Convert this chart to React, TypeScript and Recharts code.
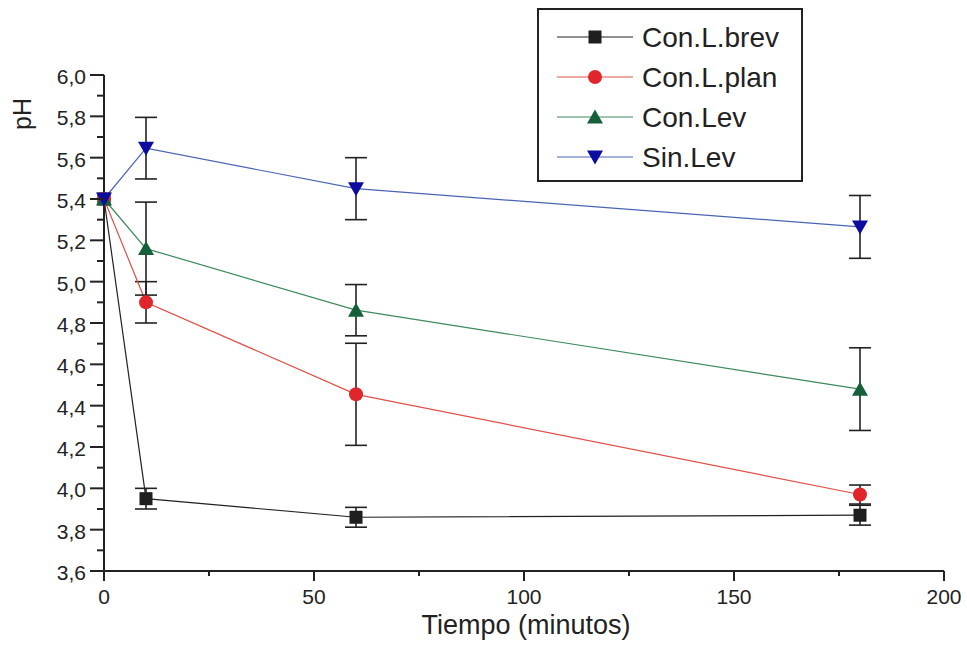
import { ComposedChart, Line, XAxis, YAxis, ErrorBar, Legend, Label } from 'recharts'

const tiempo = [0, 10, 60, 180]
const conLBrev = [5.4, 3.95, 3.86, 3.87]
const conLBrevErr = [null, 0.05, 0.048, 0.048]
const conLPlan = [5.4, 4.9, 4.455, 3.97]
const conLPlanErr = [null, 0.1, 0.247, 0.046]
const conLev = [5.4, 5.16, 4.862, 4.48]
const conLevErr = [null, 0.225, 0.124, 0.2]
const sinLev = [5.4, 5.646, 5.45, 5.265]
const sinLevErr = [null, 0.149, 0.15, 0.152]

const xTicks = [0, 25, 50, 75, 100, 125, 150, 175, 200]
const xMajor = [0, 50, 100, 150, 200]
const yTicks = [3.6, 3.7, 3.8, 3.9, 4.0, 4.1, 4.2, 4.3, 4.4, 4.5, 4.6, 4.7, 4.8, 4.9, 5.0, 5.1, 5.2, 5.3, 5.4, 5.5, 5.6, 5.7, 5.8, 5.9, 6.0]
const yMajor = [3.6, 3.8, 4.0, 4.2, 4.4, 4.6, 4.8, 5.0, 5.2, 5.4, 5.6, 5.8, 6.0]

const series = [
  { key: 'brev', name: 'Con.L.brev', line: '#222222', fill: '#1e1e1e', shape: 'square' },
  { key: 'plan', name: 'Con.L.plan', line: '#e05048', fill: '#e0262a', shape: 'circle' },
  { key: 'lev', name: 'Con.Lev', line: '#3c8a5c', fill: '#15603a', shape: 'up' },
  { key: 'sin', name: 'Sin.Lev', line: '#4a64b4', fill: '#0c0c9e', shape: 'down' },
]

const data = tiempo.map((t, i) => ({
  t,
  brev: conLBrev[i],
  brevErr: conLBrevErr[i],
  plan: conLPlan[i],
  planErr: conLPlanErr[i],
  lev: conLev[i],
  levErr: conLevErr[i],
  sin: sinLev[i],
  sinErr: sinLevErr[i],
}))

const font = '"Liberation Sans", Arial, sans-serif'

function Marker({ cx, cy, shape, fill }: any) {
  if (shape === 'square') return <rect x={cx - 6.5} y={cy - 6.5} width={13} height={13} fill={fill} />
  if (shape === 'circle') return <circle cx={cx} cy={cy} r={7} fill={fill} />
  if (shape === 'up') return <polygon points={`${cx - 8},${cy + 6.5} ${cx + 8},${cy + 6.5} ${cx},${cy - 7.5}`} fill={fill} />
  return <polygon points={`${cx - 8},${cy - 6.5} ${cx + 8},${cy - 6.5} ${cx},${cy + 7.5}`} fill={fill} />
}

function YTick({ x, y, payload }: any) {
  const major = yMajor.includes(payload.value)
  return (
    <g>
      <line x1={x - (major ? 14 : 7)} x2={x} y1={y} y2={y} stroke="#222" strokeWidth={2} />
      {major && (
        <text x={x - 18} y={y + 9} textAnchor="end" fontSize={21} fontFamily={font} fill="#222">
          {payload.value.toFixed(1).replace('.', ',')}
        </text>
      )}
    </g>
  )
}

function XTick({ x, y, payload }: any) {
  const major = xMajor.includes(payload.value)
  return (
    <g>
      <line x1={x} x2={x} y1={y} y2={y + (major ? 10 : 5)} stroke="#222" strokeWidth={2} />
      {major && (
        <text x={x} y={y + 33} textAnchor="middle" fontSize={21} fontFamily={font} fill="#222">
          {payload.value}
        </text>
      )}
    </g>
  )
}

function LegendBox() {
  return (
    <svg width={266} height={174} style={{ display: 'block' }}>
      <rect x={1} y={1} width={264} height={172} fill="#fff" stroke="#222" strokeWidth={2} />
      {series.map((s, i) => {
        const cy = 29 + i * 40
        return (
          <g key={s.key}>
            <line x1={20} x2={96} y1={cy} y2={cy} stroke={s.line} strokeWidth={1.2} />
            <Marker cx={58} cy={cy} shape={s.shape} fill={s.fill} />
            <text x={105} y={cy + 10} fontSize={28} fontFamily={font} fill="#222">
              {s.name}
            </text>
          </g>
        )
      })}
    </svg>
  )
}

export default function App() {
  return (
    <div style={{ position: 'absolute', left: 0, top: 0, width: 967, height: 657, background: '#fff' }}>
      <ComposedChart width={967} height={657} data={data} margin={{ top: 75, right: 23, bottom: 36, left: 44 }}>
        <XAxis
          dataKey="t"
          type="number"
          domain={[0, 200]}
          ticks={xTicks}
          interval={0}
          height={50}
          tickSize={0}
          tickMargin={0}
          tickLine={false}
          tick={<XTick />}
          axisLine={{ stroke: '#222', strokeWidth: 2 }}
        >
          <Label
            content={() => (
              <text x={526} y={634} textAnchor="middle" fontSize={27} fontFamily={font} fill="#222">
                Tiempo (minutos)
              </text>
            )}
          />
        </XAxis>
        <YAxis
          type="number"
          domain={[3.6, 6.0]}
          ticks={yTicks}
          interval={0}
          width={60}
          tickSize={0}
          tickMargin={0}
          tickLine={false}
          tick={<YTick />}
          axisLine={{ stroke: '#222', strokeWidth: 2 }}
        >
          <Label
            content={() => (
              <text x={31} y={114} transform="rotate(-90 31 114)" textAnchor="middle" fontSize={25} fontFamily={font} fill="#222">
                pH
              </text>
            )}
          />
        </YAxis>
        <Legend
          layout="horizontal"
          verticalAlign="middle"
          align="center"
          content={() => <LegendBox />}
          wrapperStyle={{ position: 'absolute', left: 537, top: 8, width: 266, height: 174 }}
        />
        {series.map((s) => (
          <Line
            key={s.key}
            dataKey={s.key}
            name={s.name}
            type="linear"
            stroke={s.line}
            strokeWidth={1.2}
            isAnimationActive={false}
            activeDot={false}
            dot={(p: any) => <Marker key={`${s.key}-${p.index}`} cx={p.cx} cy={p.cy} shape={s.shape} fill={s.fill} />}
          >
            <ErrorBar dataKey={`${s.key}Err`} direction="y" width={11} stroke="#222" strokeWidth={1.6} isAnimationActive={false} />
          </Line>
        ))}
      </ComposedChart>
    </div>
  )
}
